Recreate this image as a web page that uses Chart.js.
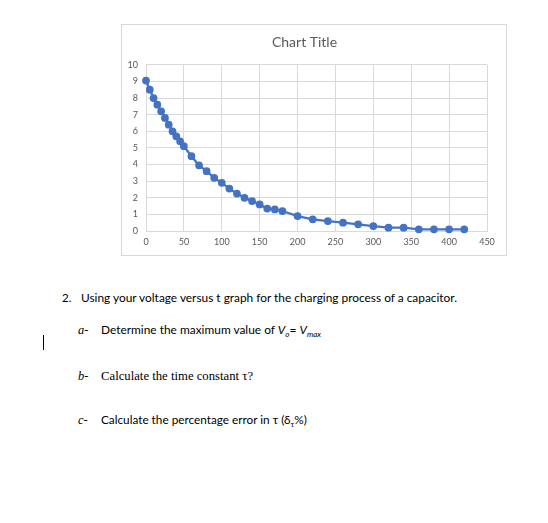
<!DOCTYPE html>
<html>
<head>
<meta charset="utf-8">
<script src="https://cdn.jsdelivr.net/npm/chart.js@4"></script>
<style>
  body { margin: 0; background: #fff; width: 548px; height: 523px; position: relative; overflow: hidden; }
  #chartBox { position: absolute; left: 121px; top: 24px; width: 384px; height: 230px; border: 1px solid #d9d9d9; }
  .q { position: absolute; font-family: Lato, "Open Sans", sans-serif; font-size: 11.5px; color: #000; white-space: nowrap; line-height: 14px; }
  .mark { position: absolute; font-family: "Liberation Serif", serif; font-style: italic; font-size: 12.5px; color: #000; line-height: 14px; }
  .serif { font-family: "Liberation Serif", serif; }
  .sub { font-size: 8px; position: relative; top: 3px; vertical-align: baseline; line-height: 0; }
  #cursor { position: absolute; left: 43px; top: 335px; width: 1px; height: 15px; background: #000; }
</style>
</head>
<body>
<div id="chartBox"><canvas id="chart" width="384" height="230"></canvas></div>

<div class="q" style="left:62px; top:291px;">2.</div>
<div class="q fit" data-w="376" style="left:81px; top:291px;">Using your voltage versus t graph for the charging process of a capacitor.</div>

<div class="mark" style="left:78px; top:323px;">a-</div>
<div class="q fit" data-w="221" style="left:101px; top:323px;">Determine the maximum value of <i>V<span class="sub">o</span></i>= <i>V<span class="sub">max</span></i></div>
<div id="cursor"></div>

<div class="mark" style="left:78px; top:369px;">b-</div>
<div class="q serif fit" data-w="152" style="left:101px; top:369px;">Calculate the time constant τ?</div>

<div class="mark" style="left:78px; top:413px;">c-</div>
<div class="q fit" data-w="206" style="left:101px; top:413px;">Calculate the percentage error in τ (δ<span class="sub">τ</span>%)</div>

<script>
// discharge readings: time (s) and voltage (V)
const timeValues = [0, 5, 10, 15, 20, 25, 30, 35, 40, 45, 50, 60, 70, 80, 90, 100, 110, 120, 130, 140, 150, 160, 170, 180, 200, 220, 240, 260, 280, 300, 320, 340, 360, 380, 400, 420];
const voltageValues = [9.05, 8.5, 8.0, 7.6, 7.2, 6.8, 6.4, 6.0, 5.7, 5.4, 5.1, 4.5, 3.95, 3.6, 3.2, 2.9, 2.55, 2.25, 2.0, 1.8, 1.6, 1.35, 1.3, 1.2, 0.9, 0.7, 0.6, 0.5, 0.4, 0.3, 0.2, 0.2, 0.1, 0.1, 0.1, 0.1];
const chartTitle = "Chart Title";

// fit text lines to the widths seen in the reference
document.querySelectorAll(".fit").forEach((el) => {
  const target = Number(el.dataset.w);
  const size = parseFloat(getComputedStyle(el).fontSize);
  const w = el.getBoundingClientRect().width;
  el.style.fontSize = (size * target / w).toFixed(2) + "px";
});

const points = timeValues.map((t, i) => ({ x: t, y: voltageValues[i] }));
const blue = "#4472c4";
const gridColor = "#d9d9d9";
const tickFont = { family: "Lato, 'Open Sans', sans-serif", size: 9 };

new Chart(document.getElementById("chart"), {
  type: "scatter",
  data: {
    datasets: [{
      data: points,
      showLine: true,
      clip: false,
      borderColor: blue,
      backgroundColor: blue,
      borderWidth: 2.25,
      pointRadius: 2.75,
      pointHoverRadius: 2.75,
    }],
  },
  options: {
    responsive: false,
    animation: false,
    layout: { padding: { left: 0, right: 19, top: 0, bottom: 0 } },
    plugins: {
      legend: { display: false },
      tooltip: { enabled: false },
      title: {
        display: true,
        text: chartTitle,
        color: "#595959",
        font: { family: "Lato, 'Open Sans', sans-serif", size: 14, weight: "normal" },
        padding: { top: 9, bottom: 14 },
      },
    },
    scales: {
      x: {
        type: "linear",
        min: 0,
        max: 450,
        ticks: { stepSize: 50, color: "#595959", font: tickFont, padding: 6 },
        grid: { color: gridColor, drawTicks: false },
        border: { color: gridColor },
        afterFit: (scale) => { scale.height = 24; },
      },
      y: {
        min: 0,
        max: 10,
        ticks: { stepSize: 1, color: "#595959", font: tickFont, padding: 8 },
        grid: { color: gridColor, drawTicks: false },
        border: { color: gridColor },
        afterFit: (scale) => { scale.width = 24; },
      },
    },
  },
});
</script>
</body>
</html>
